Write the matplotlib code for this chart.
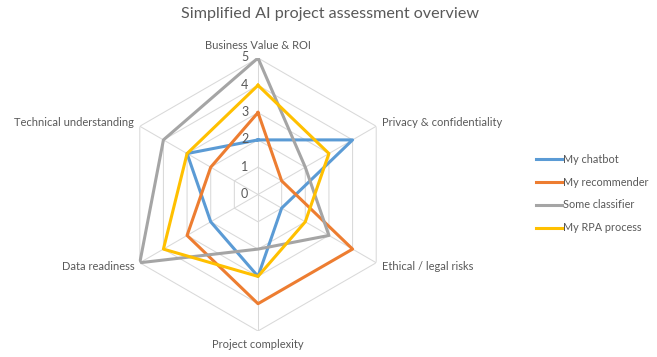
import numpy as np
import matplotlib
matplotlib.use("Agg")
import matplotlib.pyplot as plt
import matplotlib.transforms as mtransforms
from matplotlib.lines import Line2D

plt.rcParams['font.family'] = ['Lato', 'DejaVu Sans']

categories = ["Business Value & ROI", "Privacy & confidentiality", "Ethical / legal risks",
              "Project complexity", "Data readiness", "Technical understanding"]
series_names = ["My chatbot", "My recommender", "Some classifier", "My RPA process"]
chatbot = [2, 4, 1, 3, 2, 3]
recommender = [3, 1, 4, 4, 3, 2]
classifier = [5, 2, 3, 2, 5, 4]
rpa = [4, 3, 2, 3, 4, 3]
levels = [0, 1, 2, 3, 4, 5]
colors = ["#5B9BD5", "#ED7D31", "#A5A5A5", "#FFC000"]
text_color = "#595959"
grid_color = "#D9D9D9"

W, H = 657, 357
fig = plt.figure(figsize=(W / 100, H / 100), dpi=100)
cx, cy, R = 258, 194.5, 136.5
ax = fig.add_axes([(cx - R) / W, (H - cy - R) / H, 2 * R / W, 2 * R / H], projection='polar')
ax.set_theta_zero_location('N')
ax.set_theta_direction(-1)
ax.set_ylim(0, levels[-1])
ax.grid(False)
ax.spines['polar'].set_visible(False)
ax.set_xticks([])
ax.set_yticks([])
ax.patch.set_alpha(0)

n = len(categories)
angles = np.linspace(0, 2 * np.pi, n, endpoint=False)
closed = np.concatenate([angles, angles[:1]])

# hexagonal grid
for lv in levels[1:]:
    ax.plot(closed, [lv] * (n + 1), color=grid_color, lw=0.75, zorder=1)
for a in angles:
    ax.plot([a, a], [0, levels[-1]], color=grid_color, lw=0.75, zorder=1)

for vals, name, c in zip([chatbot, recommender, classifier, rpa], series_names, colors):
    v = list(vals) + [vals[0]]
    ax.plot(closed, v, color=c, lw=2.2, label=name, zorder=3, solid_joinstyle='round')

# level labels
off = mtransforms.offset_copy(ax.transData, fig=fig, x=-7, y=0.5, units='points')
for lv in levels:
    ax.text(0, lv, str(lv), transform=off, ha='right', va='center', fontsize=9,
            color=text_color, zorder=4)

# category labels
label_specs = [(0, 5, 'center', 'bottom'), (4, 2.5, 'left', 'center'), (4, -3, 'left', 'center'),
               (0, -6, 'center', 'top'), (-4, -3, 'right', 'center'), (-4, 2.5, 'right', 'center')]
for a, cat, (dx, dy, ha, va) in zip(angles, categories, label_specs):
    t = mtransforms.offset_copy(ax.transData, fig=fig, x=dx, y=dy, units='points')
    ax.text(a, levels[-1], cat, transform=t, ha=ha, va=va, fontsize=8, color=text_color)

fig.text(330 / W, 1 - 14 / H, "Simplified AI project assessment overview", ha='center', va='center',
         fontsize=11.6, color=text_color)

handles = [Line2D([0], [0], color=c, lw=2.2) for c in colors]
leg = fig.legend(handles, series_names, loc='center left', bbox_to_anchor=(526 / W, 1 - 193.5 / H),
                 frameon=False, fontsize=7.8, handlelength=2.4, handletextpad=0.1,
                 labelspacing=1.1, labelcolor=text_color)

fig.savefig("out.png", dpi=100)
